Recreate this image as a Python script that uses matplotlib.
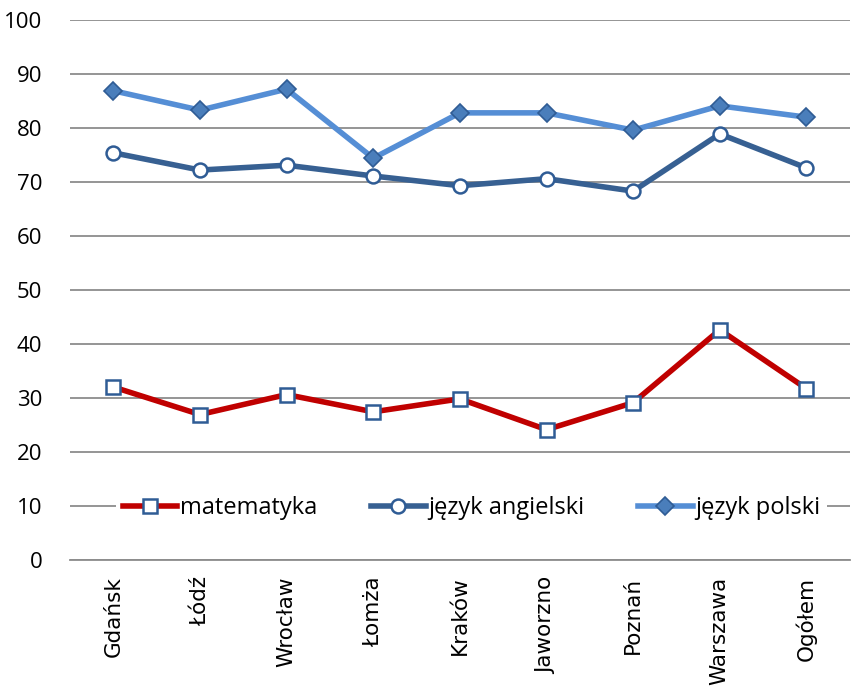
import numpy as np
import matplotlib
matplotlib.use("Agg")
import matplotlib.pyplot as plt

miasta = ["Gdańsk", "Łódź", "Wrocław", "Łomża", "Kraków", "Jaworzno",
          "Poznań", "Warszawa", "Ogółem"]
matematyka = [32.0, 26.9, 30.6, 27.4, 29.8, 24.1, 29.1, 42.6, 31.7]
angielski = [75.4, 72.2, 73.1, 71.1, 69.3, 70.6, 68.3, 78.9, 72.6]
polski = [86.9, 83.3, 87.2, 74.4, 82.8, 82.8, 79.6, 84.1, 82.0]
y_ticks = [0, 10, 20, 30, 40, 50, 60, 70, 80, 90, 100]

fig = plt.figure(figsize=(8.54, 6.91), dpi=100)
ax = fig.add_axes([0.082, 0.19, 0.913, 0.781])

x = np.arange(len(miasta))
ax.plot(x, matematyka, color="#C00000", lw=4, marker="s", ms=10,
        mfc="white", mec="#2F5C95", mew=1.8, label="matematyka", zorder=3)
ax.plot(x, angielski, color="#376092", lw=4, marker="o", ms=10,
        mfc="white", mec="#2F5C95", mew=1.8, label="język angielski", zorder=3)
ax.plot(x, polski, color="#558ED5", lw=4, marker="D", ms=9,
        mfc="#4A7EBB", mec="#2F5C95", mew=1.2, label="język polski", zorder=3)

ax.set_xlim(-0.5, len(miasta) - 0.5)
ax.set_ylim(0, 100)
ax.set_yticks(y_ticks)
ax.set_yticklabels([str(v) for v in y_ticks], fontsize=16, family="Open Sans")
ax.set_xticks(x)
ax.set_xticklabels(miasta, rotation=90, fontsize=15.5, family="DejaVu Sans")
ax.tick_params(axis="both", length=0, pad=12)
ax.tick_params(axis="y", pad=20)

ax.yaxis.grid(True, color="#8C8C8C", lw=1.3)
ax.set_axisbelow(True)
for s in ["left", "right", "top"]:
    ax.spines[s].set_visible(False)
ax.spines["bottom"].set_color("#8C8C8C")
ax.spines["bottom"].set_linewidth(1.3)

leg = ax.legend(loc="center", bbox_to_anchor=(0.515, 0.096), ncol=3,
                frameon=True, facecolor="white", edgecolor="none",
                framealpha=1, handlelength=2.3,
                handletextpad=0.1, columnspacing=2.3, borderpad=0.3,
                prop={"family": "Open Sans", "size": 17})

fig.savefig("out.png", dpi=100)
